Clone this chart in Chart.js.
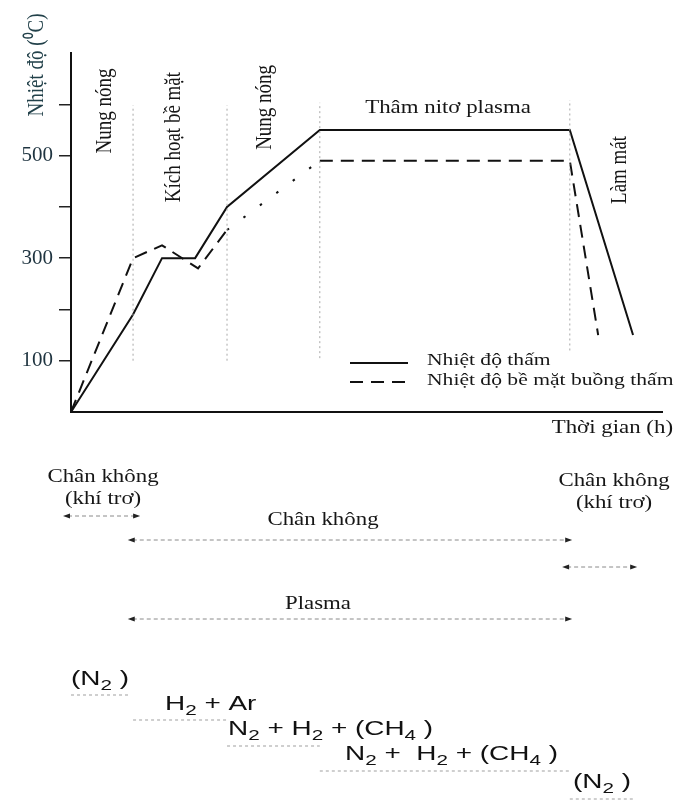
<!DOCTYPE html>
<html>
<head>
<meta charset="utf-8">
<script src="https://cdn.jsdelivr.net/npm/chart.js@4.4.0/dist/chart.umd.min.js"></script>
<style>
    html, body { margin: 0; padding: 0; background: #fff; }
    #wrap { width: 683px; height: 801px; }
</style>
</head>
<body>
<div id="wrap"><canvas id="processChart" width="683" height="801"></canvas></div>
<script>
// time runs in arbitrary units, 0 = start of the cycle
const solidTime = [0, 10.5, 15.4, 21, 26.4, 42.1, 84.4, 95.1];
const solidTemp = [0, 190, 300, 300, 400, 550, 550, 150];
const surfaceTime = [0, 10.5, 15.4, 21.5, 26.4, 42.1, 84.4, 89.2];
const surfaceTemp = [0, 300, 325, 280, 355, 490, 490, 150];

// phase boundaries and the dotted separators between them
const phaseBounds = [0, 10.5, 26.4, 42.1, 84.4, 95.1];
const dividerTime = [10.5, 26.4, 42.1, 84.4];
const dividerLow = [100, 100, 105, 120];
const dividerHigh = [598, 598, 603, 608];

const phaseNames = ['Nung nóng', 'Kích hoạt bề mặt', 'Nung nóng', 'Thâm nitơ plasma', 'Làm mát'];
const yTickLabels = ['100', '300', '500'];
const seriesNames = ['Nhiệt độ thấm', 'Nhiệt độ bề mặt buồng thấm'];

// pressure / atmosphere bands under the time axis
const bandNames = ['Chân không|(khí trơ)', 'Chân không', 'Chân không|(khí trơ)', 'Plasma'];
const bandFrom = [-1.35, 9.6, 83.1, 9.6];
const bandTo = [11.7, 84.8, 95.8, 84.8];

const gasNames = ['(N2 )', 'H2 + Ar', 'N2 + H2 + (CH4 )', 'N2 +  H2 + (CH4 )', '(N2 )'];

const SX = 1.27;       // the source picture is stretched sideways
const SX_SANS = 1.33;
const SERIF = '"Liberation Serif", "Times New Roman", serif';
const SANS = '"Liberation Sans", Arial, sans-serif';

function stretchText(ctx, text, x, y, size, opts) {
    opts = opts || {};
    ctx.save();
    ctx.font = size + 'px ' + SERIF;
    ctx.fillStyle = opts.color || '#161616';
    ctx.textAlign = opts.align || 'center';
    ctx.textBaseline = 'middle';
    ctx.translate(x, y);
    ctx.scale(SX, 1);
    if (opts.rotate) ctx.rotate(-Math.PI / 2);
    ctx.fillText(text, 0, 0);
    ctx.restore();
}

// digits become subscripts (N2, H2, CH4)
function gasText(ctx, text, x, y, size) {
    ctx.save();
    ctx.translate(x, y);
    ctx.scale(SX_SANS, 1);
    ctx.fillStyle = '#111';
    ctx.textAlign = 'left';
    ctx.textBaseline = 'alphabetic';
    let cx = 0;
    for (const ch of text) {
        const sub = /\d/.test(ch);
        ctx.font = (sub ? size * 0.74 : size) + 'px ' + SANS;
        ctx.fillText(ch, cx, sub ? size * 0.22 : 0);
        cx += ctx.measureText(ch).width;
    }
    ctx.restore();
}

function hline(ctx, x1, x2, y, color, dash, width) {
    ctx.save();
    ctx.strokeStyle = color;
    ctx.lineWidth = width || 1;
    ctx.setLineDash(dash || []);
    ctx.beginPath();
    ctx.moveTo(x1, y);
    ctx.lineTo(x2, y);
    ctx.stroke();
    ctx.restore();
}

function arrow(ctx, x1, x2, y) {
    hline(ctx, x1 + 5, x2 - 5, y, '#8a8a8a', [4, 3], 1);
    ctx.save();
    ctx.fillStyle = '#222';
    ctx.beginPath();
    ctx.moveTo(x1, y); ctx.lineTo(x1 + 7, y - 2.5); ctx.lineTo(x1 + 7, y + 2.5);
    ctx.closePath(); ctx.fill();
    ctx.beginPath();
    ctx.moveTo(x2, y); ctx.lineTo(x2 - 7, y - 2.5); ctx.lineTo(x2 - 7, y + 2.5);
    ctx.closePath(); ctx.fill();
    ctx.restore();
}

const annotations = {
    id: 'annotations',
    afterDraw(chart) {
        const ctx = chart.ctx;
        const xs = chart.scales.x;
        const ys = chart.scales.y;
        const px = v => xs.getPixelForValue(v);
        const py = v => ys.getPixelForValue(v);

        // axis titles
        stretchText(ctx, 'Nhiệt độ (⁰C)', 37, 65, 19, { rotate: true, color: '#22414a' });
        stretchText(ctx, 'Thời gian (h)', 673, 428, 18, { align: 'right' });

        // phase names
        const spots = [[5.75, 587, true], [17.3, 536, true], [32.8, 594, true], [63.8, 593, false], [92.9, 472, true]];
        phaseNames.forEach((name, i) => {
            const s = spots[i];
            stretchText(ctx, name, px(s[0]), py(s[1]), s[2] ? 19 : 18, { rotate: s[2] });
        });

        // legend
        hline(ctx, 350, 408, 363, '#111', [], 2);
        hline(ctx, 350, 412, 382, '#111', [13, 8], 2);
        stretchText(ctx, seriesNames[0], 427, 361, 17, { align: 'left' });
        stretchText(ctx, seriesNames[1], 427, 381, 17, { align: 'left' });

        // bands with arrows
        const textX = [103, 323, 614, 318];
        const textY = [[477, 499], [520], [481, 503], [604]];
        const arrowY = [516, 540, 567, 619];
        bandNames.forEach((name, i) => {
            name.split('|').forEach((line, j) => {
                stretchText(ctx, line, textX[i], textY[i][j], 18);
            });
            arrow(ctx, px(bandFrom[i]), px(bandTo[i]), arrowY[i]);
        });

        // gas mixtures per phase
        const gasX = [71, 165, 228, 345, 573];
        const gasY = [685, 710, 735, 760, 788];
        const lineY = [695, 720, 746, 771, 799];
        gasNames.forEach((g, i) => {
            gasText(ctx, g, gasX[i], gasY[i], 21);
            hline(ctx, px(phaseBounds[i]), px(phaseBounds[i + 1]) - (i === 0 ? 4 : 0), lineY[i], '#a0a0a0', [3, 3], 1);
        });
    }
};

const dividerSets = dividerTime.map((t, i) => ({
    data: [{ x: t, y: dividerLow[i] }, { x: t, y: dividerHigh[i] }],
    borderColor: '#a8a8a8',
    borderWidth: 1,
    borderDash: [2, 3]
}));

new Chart(document.getElementById('processChart').getContext('2d'), {
    type: 'line',
    data: {
        datasets: [
            ...dividerSets,
            {
                label: seriesNames[0],
                data: solidTime.map((t, i) => ({ x: t, y: solidTemp[i] })),
                borderColor: '#111',
                borderWidth: 2
            },
            {
                label: seriesNames[1],
                data: surfaceTime.map((t, i) => ({ x: t, y: surfaceTemp[i] })),
                borderColor: '#111',
                borderWidth: 2,
                segment: {
                    borderDash: c => c.p0DataIndex === 4 ? [2.5, 18] : [13, 8]
                }
            }
        ]
    },
    options: {
        responsive: false,
        animation: false,
        layout: { padding: { left: 0, top: 53, right: 21, bottom: 387 } },
        elements: { point: { radius: 0 }, line: { tension: 0 } },
        plugins: {
            legend: { display: false },
            tooltip: { enabled: false }
        },
        scales: {
            x: {
                type: 'linear',
                min: 0,
                max: 100,
                afterFit: s => { s.height = 2; },
                border: { display: true, color: '#111', width: 2 },
                grid: { display: false },
                ticks: { display: false }
            },
            y: {
                min: 0,
                max: 700,
                afterFit: s => { s.width = 71; },
                border: { display: true, color: '#111', width: 2 },
                grid: { drawOnChartArea: false, drawTicks: true, tickLength: 12, color: '#222', lineWidth: 1.5 },
                ticks: {
                    stepSize: 100,
                    padding: 6,
                    color: '#1f3440',
                    font: { family: SERIF, size: 21 },
                    callback: v => yTickLabels.includes(String(v)) ? String(v) : (v > 0 && v < 700 ? '' : null)
                }
            }
        }
    },
    plugins: [annotations]
});
</script>
</body>
</html>
